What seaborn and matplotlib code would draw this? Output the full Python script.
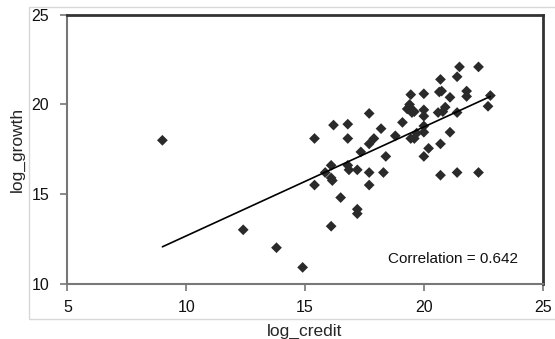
import pandas as pd
import seaborn as sns
import matplotlib
matplotlib.use('Agg')
import matplotlib.pyplot as plt
from matplotlib.patches import Rectangle

# values
log_credit = [9.0, 12.4, 13.8, 14.9, 15.4, 15.4, 15.85, 16.1, 16.1, 16.15,
              16.2, 16.1, 16.5, 16.8, 16.8, 16.8, 16.85, 17.2, 17.2, 17.2,
              17.35, 17.7, 17.7, 17.7, 17.7, 17.9, 18.2, 18.3, 18.4, 18.8,
              19.1, 19.3, 19.45, 19.4, 19.5, 19.45, 19.6, 19.7, 19.6, 19.4,
              20.0, 20.0, 20.0, 20.0, 20.0, 20.0, 20.2, 20.7, 20.65, 20.75,
              20.6, 20.7, 20.7, 20.8, 20.9, 21.1, 21.1, 21.4, 21.4, 21.4,
              21.5, 21.8, 21.8, 22.3, 22.3, 22.7, 22.8]
log_growth = [18.0, 13.0, 12.0, 10.9, 18.1, 15.5, 16.2, 16.6, 15.9, 15.75,
              18.85, 13.2, 14.8, 18.9, 18.1, 16.6, 16.35, 16.35, 14.15, 13.9,
              17.35, 19.5, 17.8, 16.2, 15.5, 18.1, 18.65, 16.2, 17.1, 18.25,
              19.0, 19.75, 20.55, 20.0, 19.55, 18.1, 18.1, 18.4, 19.6, 19.85,
              20.6, 19.7, 19.35, 18.8, 18.45, 17.1, 17.55, 21.4, 20.7, 20.75,
              19.55, 17.8, 16.05, 19.6, 19.85, 20.4, 18.45, 21.55, 19.55, 16.2,
              22.1, 20.75, 20.45, 22.1, 16.2, 19.9, 20.5]
fit_x = [9.0, 22.8]
fit_y = [12.05, 20.45]
x_ticks = [5, 10, 15, 20, 25]
y_ticks = [10, 15, 20, 25]
corr_label = "Correlation = 0.642"

df = pd.DataFrame({"log_credit": log_credit, "log_growth": log_growth})
fit = pd.DataFrame({"x": fit_x, "y": fit_y})

sns.set_style("white")
plt.rcParams['font.family'] = ['Liberation Sans', 'DejaVu Sans']

fig = plt.figure(figsize=(5.55, 3.39), dpi=100)
ax = fig.add_axes([0.1213, 0.1637, 0.8565, 0.7921])

# light outer frame of the chart area
fig.patches.append(Rectangle((0.0523, 0.059), 1.0, 0.919, transform=fig.transFigure,
                             fill=False, edgecolor='#d8d8d8', linewidth=1.0))

sns.scatterplot(data=df, x="log_credit", y="log_growth", marker='D', s=30,
                color='#2a2a2a', edgecolor='none', ax=ax)
sns.lineplot(data=fit, x="x", y="y", color='black', linewidth=1.2, ax=ax)

ax.set_xlim(5, 25)
ax.set_ylim(10, 25)
ax.set_xticks(x_ticks)
ax.set_yticks(y_ticks)
ax.tick_params(axis='both', labelsize=11.5, length=5, width=1.2, color='#777777',
               direction='out', labelcolor='#111111', bottom=True, left=True)
ax.tick_params(axis='x', pad=7)
ax.tick_params(axis='y', pad=8)
ax.set_xlabel("log_credit", fontsize=12.5, labelpad=6)
ax.set_ylabel("log_growth", fontsize=12.5, labelpad=5)

for side in ['left', 'bottom']:
    ax.spines[side].set_color('#777777')
    ax.spines[side].set_linewidth(1.5)
for side in ['top', 'right']:
    ax.spines[side].set_color('#333333')
    ax.spines[side].set_linewidth(2.0)

ax.text(18.5, 11.35, corr_label, fontsize=11, va='center', ha='left', color='#111111')

fig.savefig("out.png", dpi=100)
plt.close(fig)
